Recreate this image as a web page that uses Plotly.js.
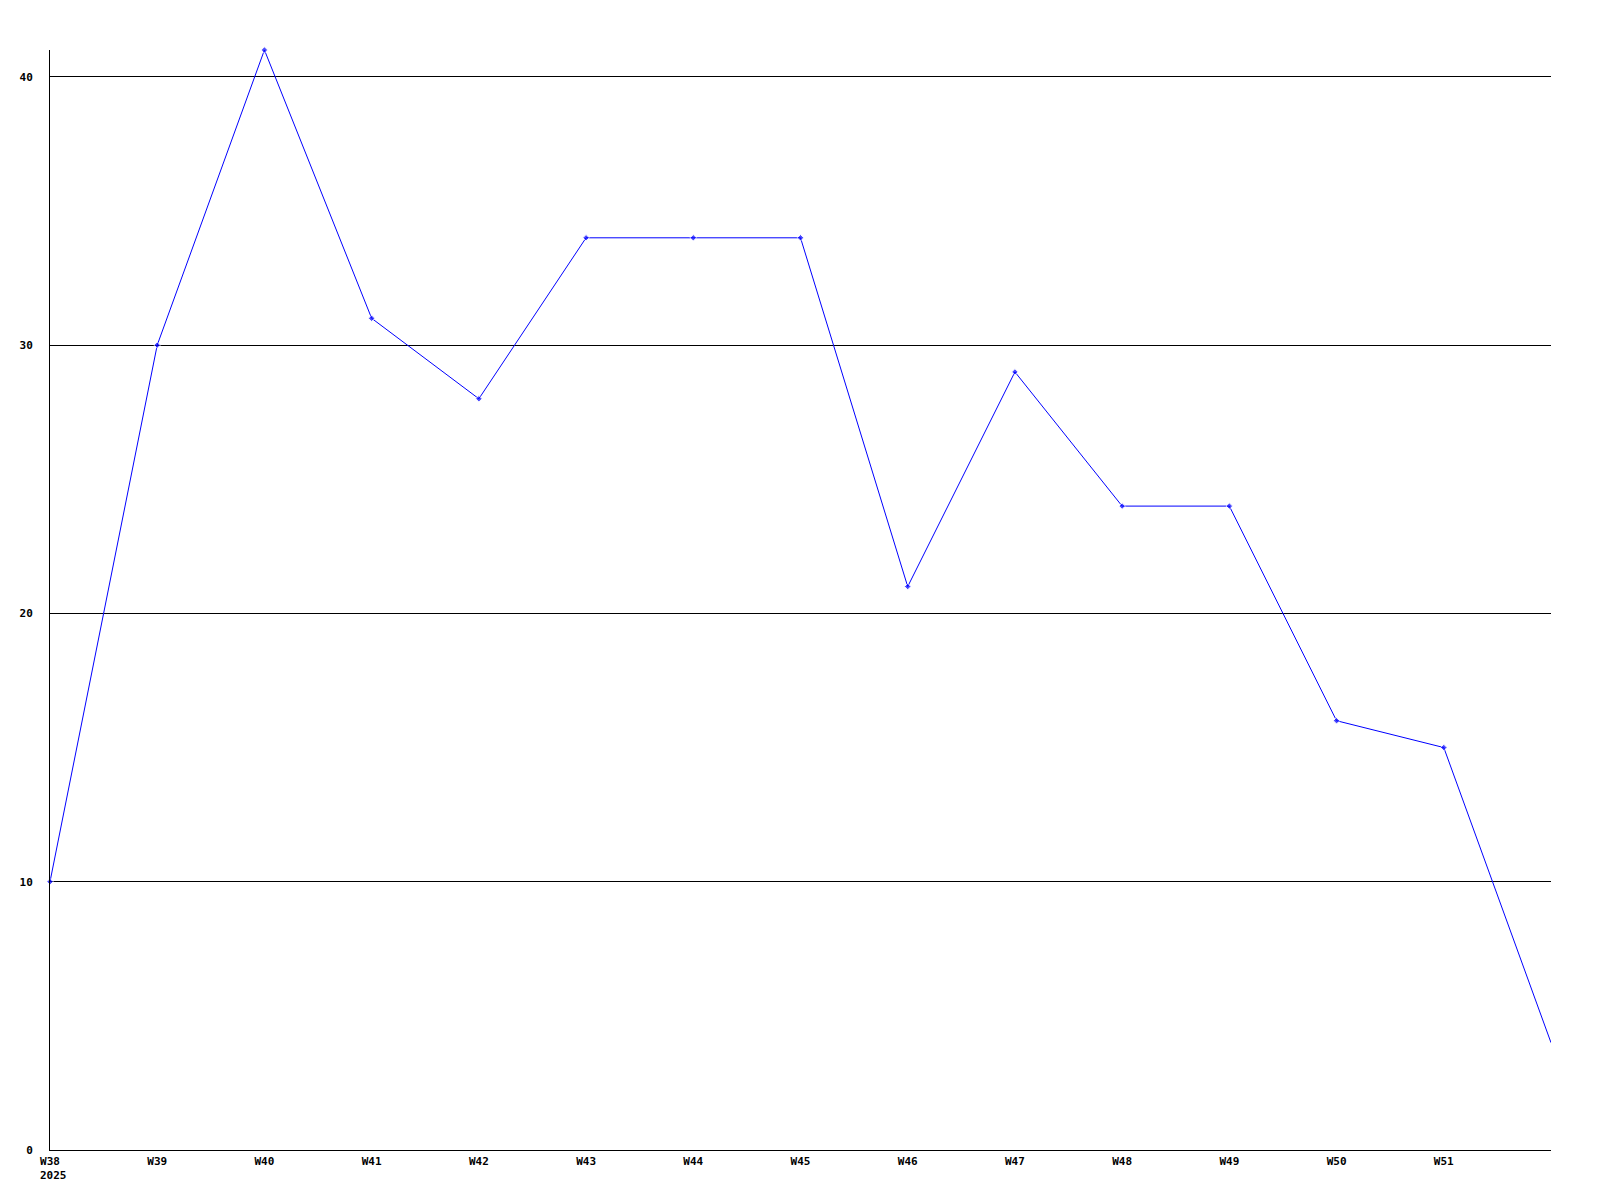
<!DOCTYPE html>
<html>
<head>
<meta charset="utf-8">
<script src="https://cdn.plot.ly/plotly-3.0.1.min.js"></script>
<style>
  html, body { margin: 0; padding: 0; background: #fff; }
  #chart { width: 1600px; height: 1200px; }
</style>
</head>
<body>
<div id="chart"></div>
<script>
// Week numbers (x positions) and values
const weekNums = [38, 39, 40, 41, 42, 43, 44, 45, 46, 47, 48, 49, 50, 51, 52];
const values   = [10, 30, 41, 31, 28, 34, 34, 34, 21, 29, 24, 24, 16, 15, 4];

// X tick labels
const tickWeeks  = [38, 39, 40, 41, 42, 43, 44, 45, 46, 47, 48, 49, 50, 51];
const tickLabels = ["W38", "W39", "W40", "W41", "W42", "W43", "W44", "W45", "W46", "W47", "W48", "W49", "W50", "W51"];
const yearLabel = "2025";

// Y ticks
const yTicks = [0, 10, 20, 30, 40];

const tickFont = { family: "DejaVu Sans Mono, monospace", size: 11, color: "#000", weight: "bold" };

// the last (in-progress) week is drawn without a marker
const markerSizes = weekNums.map((w, i) => (i === weekNums.length - 1 ? 0 : 5));

const trace = {
  x: weekNums,
  y: values,
  type: "scatter",
  mode: "lines+markers",
  line: { color: "#0000ff", width: 1 },
  marker: { color: "#0000ff", size: markerSizes, symbol: "diamond" },
  hoverinfo: "x+y",
  cliponaxis: false
};

const layout = {
  width: 1600,
  height: 1200,
  paper_bgcolor: "#ffffff",
  plot_bgcolor: "#ffffff",
  showlegend: false,
  margin: { l: 50, r: 49, t: 50, b: 50, pad: 0 },
  xaxis: {
    range: [38, 52],
    tickvals: tickWeeks,
    ticktext: tickLabels,
    showgrid: false,
    zeroline: false,
    showline: true,
    linecolor: "#000",
    linewidth: 1,
    ticks: "",
    ticklabelstandoff: 1,
    tickfont: tickFont
  },
  yaxis: {
    range: [0, 41],
    tickvals: yTicks,
    showgrid: true,
    gridcolor: "#000",
    gridwidth: 1,
    zeroline: false,
    showline: true,
    linecolor: "#000",
    linewidth: 1,
    ticks: "",
    ticklabelstandoff: 14,
    tickfont: tickFont
  },
  annotations: [{
    text: yearLabel,
    xref: "x", x: 38,
    yref: "paper", y: 0,
    xanchor: "left", yanchor: "top",
    xshift: -12, yshift: -17,
    showarrow: false,
    font: tickFont
  }]
};

Plotly.newPlot("chart", [trace], layout, { displayModeBar: false, staticPlot: true });
</script>
</body>
</html>
